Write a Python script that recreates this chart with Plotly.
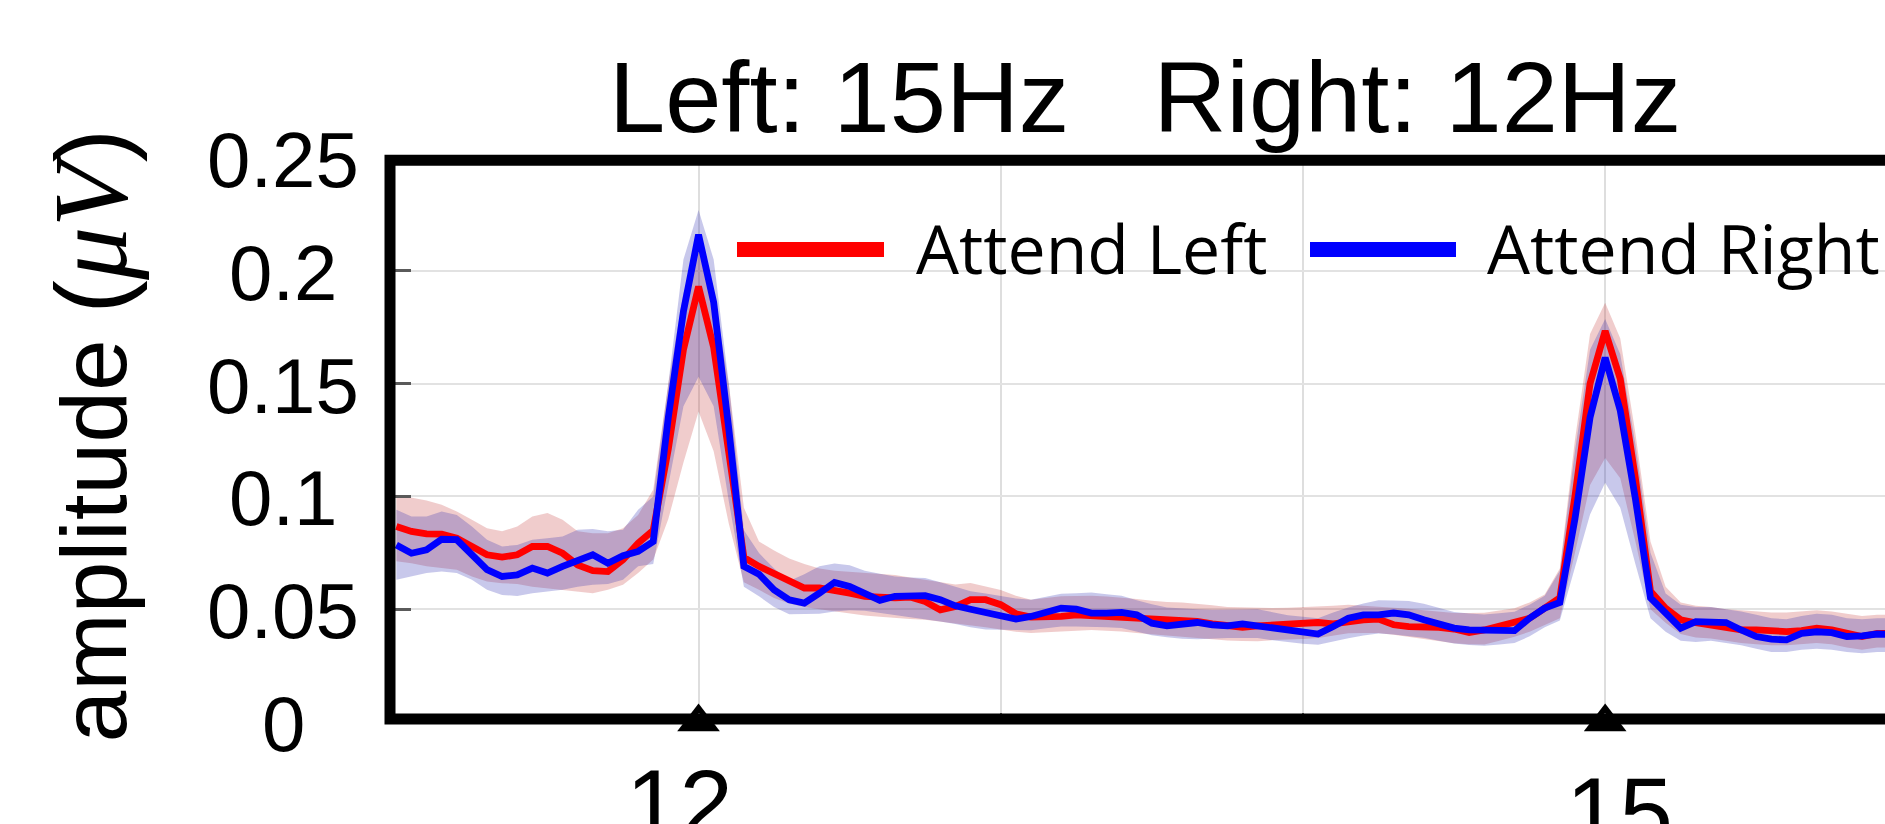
import plotly.graph_objects as go

# ---- spectrum data: amplitude (uV) sampled every 0.05 Hz from 11 Hz to 16 Hz ----
freq_start = 11.0
freq_step = 0.05

# Attend Left (red): mean and shaded band limits
left_mean = [
    0.0867, 0.0845, 0.0834, 0.0833, 0.0815, 0.0778, 0.0741, 0.0731, 0.0741, 0.0778,
    0.0778, 0.0748, 0.0696, 0.0671, 0.0667, 0.0719, 0.0793, 0.0850, 0.1210, 0.1650,
    0.1930, 0.1660, 0.1200, 0.0730, 0.0690, 0.0660, 0.0623, 0.0594, 0.0594, 0.0579,
    0.0571, 0.0557, 0.0550, 0.0550, 0.0554, 0.0534, 0.0497, 0.0512, 0.0542, 0.0542,
    0.0520, 0.0480, 0.0465, 0.0463, 0.0468, 0.0475, 0.0471, 0.0471, 0.0468, 0.0465,
    0.0460, 0.0456, 0.0450, 0.0446, 0.0435, 0.0426, 0.0420, 0.0426, 0.0431, 0.0435,
    0.0438, 0.0441, 0.0435, 0.0446, 0.0453, 0.0456, 0.0431, 0.0423, 0.0423, 0.0420,
    0.0412, 0.0397, 0.0408, 0.0426, 0.0438, 0.0460, 0.0505, 0.0550, 0.1000, 0.1500,
    0.1733, 0.1520, 0.1080, 0.0580, 0.0504, 0.0453, 0.0440, 0.0431, 0.0416, 0.0408,
    0.0408, 0.0401, 0.0401, 0.0405, 0.0416, 0.0408, 0.0393, 0.0379, 0.0393, 0.0395,
    0.0390,
]
left_upper = [
    0.1007, 0.0993, 0.0982, 0.0963, 0.0933, 0.0896, 0.0859, 0.0845, 0.0867, 0.0911,
    0.0926, 0.0896, 0.0845, 0.0837, 0.0837, 0.0859, 0.0918, 0.1030, 0.1500, 0.1900,
    0.2100, 0.1900, 0.1500, 0.0950, 0.0800, 0.0760, 0.0725, 0.0700, 0.0680, 0.0670,
    0.0665, 0.0660, 0.0656, 0.0652, 0.0640, 0.0630, 0.0620, 0.0610, 0.0616, 0.0600,
    0.0585, 0.0560, 0.0542, 0.0550, 0.0557, 0.0558, 0.0560, 0.0556, 0.0552, 0.0545,
    0.0538, 0.0532, 0.0530, 0.0525, 0.0518, 0.0510, 0.0508, 0.0505, 0.0505, 0.0506,
    0.0508, 0.0510, 0.0515, 0.0520, 0.0516, 0.0511, 0.0506, 0.0502, 0.0495, 0.0488,
    0.0483, 0.0483, 0.0484, 0.0494, 0.0504, 0.0530, 0.0565, 0.0680, 0.1250, 0.1720,
    0.1858, 0.1700, 0.1280, 0.0800, 0.0600, 0.0530, 0.0515, 0.0510, 0.0500, 0.0495,
    0.0490, 0.0485, 0.0485, 0.0490, 0.0495, 0.0490, 0.0480, 0.0470, 0.0475, 0.0475,
    0.0470,
]
left_lower = [
    0.0712, 0.0704, 0.0690, 0.0682, 0.0675, 0.0645, 0.0623, 0.0615, 0.0612, 0.0600,
    0.0593, 0.0586, 0.0578, 0.0571, 0.0586, 0.0608, 0.0660, 0.0720, 0.0900, 0.1150,
    0.1376, 0.1200, 0.0880, 0.0620, 0.0586, 0.0550, 0.0525, 0.0510, 0.0500, 0.0490,
    0.0480, 0.0472, 0.0466, 0.0460, 0.0457, 0.0453, 0.0445, 0.0437, 0.0430, 0.0420,
    0.0410, 0.0400, 0.0395, 0.0397, 0.0400, 0.0404, 0.0408, 0.0405, 0.0401, 0.0395,
    0.0389, 0.0383, 0.0377, 0.0370, 0.0366, 0.0361, 0.0359, 0.0358, 0.0363, 0.0364,
    0.0368, 0.0372, 0.0383, 0.0393, 0.0394, 0.0394, 0.0387, 0.0377, 0.0366, 0.0357,
    0.0349, 0.0345, 0.0343, 0.0360, 0.0378, 0.0400, 0.0430, 0.0460, 0.0750, 0.1050,
    0.1170, 0.1080, 0.0800, 0.0500, 0.0440, 0.0390, 0.0375, 0.0370, 0.0360, 0.0350,
    0.0345, 0.0340, 0.0340, 0.0345, 0.0350, 0.0345, 0.0330, 0.0320, 0.0330, 0.0330,
    0.0325,
]

# Attend Right (blue): mean and shaded band limits
right_mean = [
    0.0785, 0.0748, 0.0763, 0.0810, 0.0808, 0.0741, 0.0675, 0.0645, 0.0652, 0.0682,
    0.0660, 0.0690, 0.0719, 0.0741, 0.0704, 0.0737, 0.0756, 0.0800, 0.1350, 0.1820,
    0.2160, 0.1860, 0.1300, 0.0690, 0.0655, 0.0586, 0.0542, 0.0527, 0.0571, 0.0619,
    0.0601, 0.0568, 0.0539, 0.0557, 0.0560, 0.0560, 0.0542, 0.0515, 0.0500, 0.0486,
    0.0471, 0.0456, 0.0468, 0.0490, 0.0505, 0.0500, 0.0483, 0.0483, 0.0486, 0.0475,
    0.0438, 0.0426, 0.0431, 0.0441, 0.0431, 0.0426, 0.0435, 0.0426, 0.0416, 0.0408,
    0.0400, 0.0390, 0.0423, 0.0460, 0.0475, 0.0475, 0.0483, 0.0475, 0.0453, 0.0431,
    0.0416, 0.0408, 0.0405, 0.0405, 0.0405, 0.0460, 0.0505, 0.0530, 0.0900, 0.1350,
    0.1615, 0.1380, 0.0990, 0.0550, 0.0480, 0.0416, 0.0445, 0.0441, 0.0441, 0.0408,
    0.0379, 0.0367, 0.0364, 0.0393, 0.0400, 0.0396, 0.0379, 0.0382, 0.0390, 0.0388,
    0.0385,
]
right_upper = [
    0.0941, 0.0911, 0.0911, 0.0933, 0.0918, 0.0867, 0.0808, 0.0778, 0.0785, 0.0808,
    0.0815, 0.0822, 0.0852, 0.0855, 0.0845, 0.0852, 0.0941, 0.1000, 0.1500, 0.2050,
    0.2270, 0.2050, 0.1500, 0.0850, 0.0749, 0.0680, 0.0625, 0.0655, 0.0690, 0.0703,
    0.0695, 0.0670, 0.0657, 0.0645, 0.0641, 0.0638, 0.0620, 0.0600, 0.0580, 0.0570,
    0.0558, 0.0547, 0.0542, 0.0555, 0.0568, 0.0571, 0.0574, 0.0566, 0.0560, 0.0540,
    0.0522, 0.0508, 0.0503, 0.0500, 0.0498, 0.0497, 0.0499, 0.0500, 0.0485, 0.0473,
    0.0466, 0.0460, 0.0485, 0.0508, 0.0525, 0.0540, 0.0539, 0.0536, 0.0524, 0.0505,
    0.0488, 0.0481, 0.0476, 0.0482, 0.0489, 0.0520, 0.0560, 0.0670, 0.1200, 0.1650,
    0.1786, 0.1630, 0.1230, 0.0750, 0.0570, 0.0520, 0.0510, 0.0510, 0.0500, 0.0490,
    0.0475, 0.0460, 0.0455, 0.0470, 0.0480, 0.0475, 0.0460, 0.0455, 0.0460, 0.0460,
    0.0455,
]
right_lower = [
    0.0630, 0.0645, 0.0660, 0.0667, 0.0660, 0.0630, 0.0586, 0.0563, 0.0559, 0.0571,
    0.0578, 0.0586, 0.0600, 0.0608, 0.0612, 0.0630, 0.0690, 0.0700, 0.1050, 0.1400,
    0.1530, 0.1400, 0.0980, 0.0600, 0.0557, 0.0510, 0.0478, 0.0478, 0.0480, 0.0490,
    0.0495, 0.0493, 0.0484, 0.0474, 0.0465, 0.0456, 0.0445, 0.0434, 0.0420, 0.0410,
    0.0408, 0.0406, 0.0407, 0.0416, 0.0423, 0.0423, 0.0423, 0.0420, 0.0417, 0.0402,
    0.0385, 0.0376, 0.0369, 0.0367, 0.0370, 0.0372, 0.0372, 0.0372, 0.0362, 0.0354,
    0.0347, 0.0342, 0.0357, 0.0371, 0.0383, 0.0392, 0.0388, 0.0382, 0.0373, 0.0360,
    0.0348, 0.0341, 0.0338, 0.0343, 0.0350, 0.0380, 0.0420, 0.0450, 0.0680, 0.0920,
    0.1060, 0.0950, 0.0700, 0.0460, 0.0400, 0.0360, 0.0355, 0.0360, 0.0350, 0.0340,
    0.0325, 0.0310, 0.0310, 0.0320, 0.0325, 0.0320, 0.0310, 0.0305, 0.0310, 0.0310,
    0.0305,
]

freqs = [round(freq_start + freq_step * i, 2) for i in range(len(left_mean))]

# stimulation frequencies marked on the axis, and axis labelling
stim_freqs = [12, 15]
stim_labels = ["12", "15"]
grid_freqs = [12, 13, 14, 15]
ytick_vals = [0, 0.05, 0.1, 0.15, 0.2, 0.25]
ytick_text = ["0", "0.05", "0.1", "0.15", "0.2", "0.25"]
title_text = "Left: 15Hz\u00a0\u00a0\u00a0Right: 12Hz"
series_names = ["Attend Left", "Attend Right"]

# ---- styling ----
RED = "rgb(255,0,0)"
BLUE = "rgb(0,0,255)"
RED_FILL = "rgba(195,51,51,0.25)"
BLUE_FILL = "rgba(35,35,175,0.25)"
SANS = "Liberation Sans, Arial, sans-serif"
LEGEND_FONT = "Open Sans, sans-serif"

W, H = 1885, 824
ML, MR, MT, MB = 390, 0, 158, 102
PLOT_H = H - MT - MB


def py(px):
    """pixel row -> paper y"""
    return (H - MB - px) / PLOT_H


def px_x(px):
    """pixel column -> paper x"""
    return (px - ML) / (W - ML - MR)


fig = go.Figure()

# shaded bands (upper edge, then lower edge filled back to it)
for upper, lower, fill in [(left_upper, left_lower, RED_FILL),
                           (right_upper, right_lower, BLUE_FILL)]:
    fig.add_trace(go.Scatter(x=freqs, y=upper, mode="lines", line=dict(width=0),
                             hoverinfo="skip", showlegend=False))
    fig.add_trace(go.Scatter(x=freqs, y=lower, mode="lines", line=dict(width=0),
                             fill="tonexty", fillcolor=fill, hoverinfo="skip",
                             showlegend=False))

# mean spectra
fig.add_trace(go.Scatter(x=freqs, y=left_mean, mode="lines", name=series_names[0],
                         line=dict(color=RED, width=6.8), showlegend=False))
fig.add_trace(go.Scatter(x=freqs, y=right_mean, mode="lines", name=series_names[1],
                         line=dict(color=BLUE, width=6.8), showlegend=False))

# triangles marking the stimulation frequencies on the x axis
fig.add_trace(go.Scatter(x=stim_freqs, y=[0] * len(stim_freqs), mode="markers",
                         marker=dict(symbol="triangle-up", size=37, color="black"),
                         cliponaxis=False, hoverinfo="skip", showlegend=False))

# box frame (left, top and bottom edges)
fig.add_shape(type="path", xref="paper", yref="paper",
              path=f"M 1.02,{py(160.3)} L 0,{py(160.3)} L 0,{py(719)} L 1.02,{py(719)}",
              line=dict(color="black", width=11), layer="above")

annotations = []

# title
annotations.append(dict(text=title_text, xref="paper", yref="paper",
                        x=px_x(1145), y=1, xanchor="center", yanchor="top",
                        yshift=119, showarrow=False,
                        font=dict(family=SANS, size=101, color="black")))

# y tick labels (centred in their column)
for v, t in zip(ytick_vals, ytick_text):
    annotations.append(dict(text=t, xref="paper", yref="y", x=0, y=v,
                            xshift=283 - ML, yshift=-2, xanchor="center",
                            yanchor="middle", showarrow=False,
                            font=dict(family=SANS, size=78, color="black")))

# x tick labels under the stimulation markers
label_shift = {"12": (-19, -26), "15": (14, -34)}
for f, t in zip(stim_freqs, stim_labels):
    dx, dy = label_shift[t]
    annotations.append(dict(text=t, xref="x", yref="paper", x=f, y=0,
                            xshift=dx, yshift=dy, xanchor="center", yanchor="top",
                            showarrow=False,
                            font=dict(family=SANS, size=96, color="black")))

# y axis title with a math-style unit
ylabel = ('amplitude '
          '<span style="font-size:100px">(</span>'
          '<i><span style="font-family:Liberation Serif;font-size:106px">μV</span></i>'
          '<span style="font-size:100px">)</span>')
annotations.append(dict(
    text=ylabel, xref="paper", yref="paper", x=0, y=py(435.5), xshift=90 - ML,
    xanchor="center", yanchor="middle", textangle=-90, showarrow=False,
    font=dict(family=SANS, size=93, color="black")))

# legend drawn inside the axes
legend_y = py(249.5)
for (x0, x1, tx), name, col in zip([(737, 884, 914), (1310, 1456, 1485)],
                                   series_names, [RED, BLUE]):
    fig.add_shape(type="line", xref="paper", yref="paper",
                  x0=px_x(x0), x1=px_x(x1), y0=legend_y, y1=legend_y,
                  line=dict(color=col, width=15), layer="above")
    annotations.append(dict(text=name, xref="paper", yref="paper",
                            x=px_x(tx), y=py(248), xanchor="left", yanchor="middle",
                            showarrow=False,
                            font=dict(family=LEGEND_FONT, size=68, color="black")))

fig.update_layout(
    width=W, height=H,
    margin=dict(l=ML, r=MR, t=MT, b=MB, pad=0),
    paper_bgcolor="white", plot_bgcolor="white",
    showlegend=False,
    annotations=annotations,
    xaxis=dict(range=[10.979, 15.926], tickvals=grid_freqs, showticklabels=False,
               ticks="inside", ticklen=9, tickwidth=2, tickcolor="#555555",
               showgrid=True, gridcolor="#dedede", gridwidth=2,
               zeroline=False, showline=False, fixedrange=True),
    yaxis=dict(range=[0, 0.25], tickvals=ytick_vals, showticklabels=False,
               ticks="inside", ticklen=21, tickwidth=2.5, tickcolor="#5a5a5a",
               showgrid=True, gridcolor="#e2e2e2", gridwidth=2,
               zeroline=False, showline=False, fixedrange=True),
)

fig.write_html("out.html")
